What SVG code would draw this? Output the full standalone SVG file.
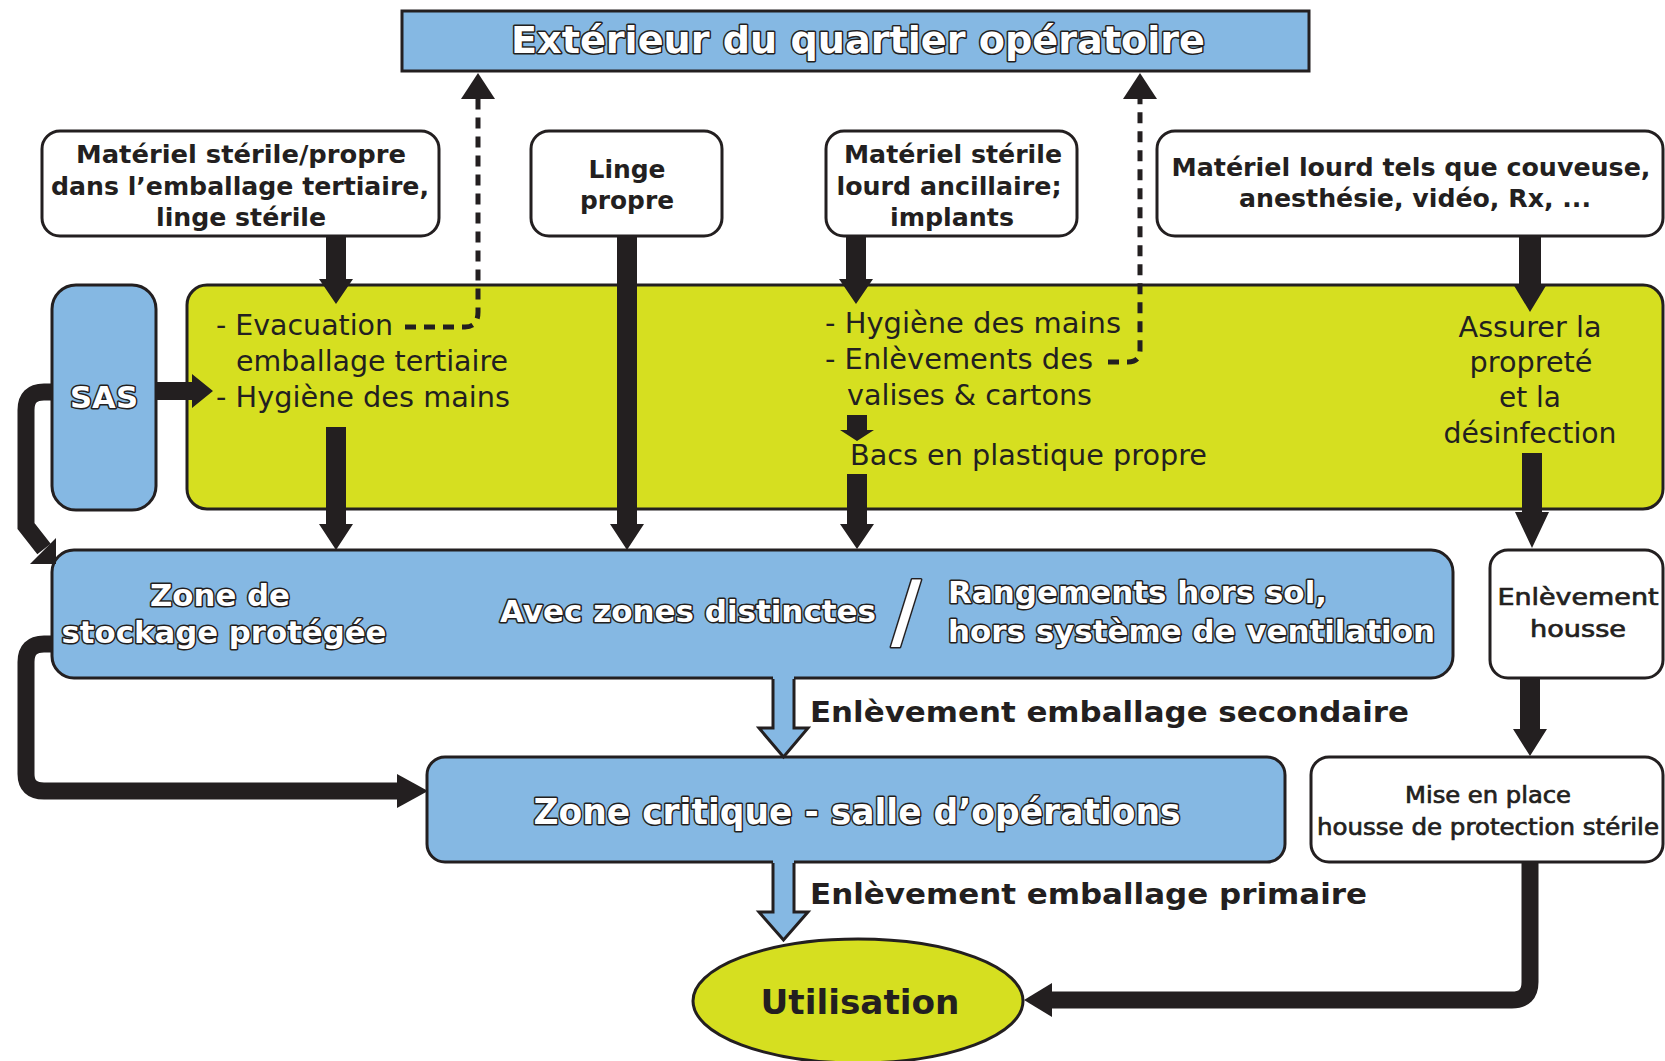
<svg xmlns="http://www.w3.org/2000/svg" width="1665" height="1061" viewBox="0 0 1665 1061">
<style>
.box{fill:#fff;stroke:#231f20;stroke-width:3}
.blue{fill:#85b8e3;stroke:#231f20;stroke-width:3}
.yel{fill:#d6df20;stroke:#231f20;stroke-width:3}
.ot{font-family:"DejaVu Sans","Liberation Sans",sans-serif;font-weight:bold;fill:#fff;stroke:#231f20;stroke-width:3;paint-order:stroke;stroke-linejoin:round}
.bt{font-family:"DejaVu Sans","Liberation Sans",sans-serif;font-weight:bold;fill:#231f20}
.mt{font-family:"DejaVu Sans","Liberation Sans",sans-serif;fill:#231f20;stroke:#231f20;stroke-width:0.7}
.yt{font-family:"DejaVu Sans","Liberation Sans",sans-serif;fill:#231f20;font-size:29px}
.c{text-anchor:middle}
.arr{fill:#231f20}
.ln{fill:none;stroke:#231f20;stroke-width:17}
.dash{fill:none;stroke:#231f20;stroke-width:5;stroke-dasharray:11 8}
.harr{fill:#85b8e3}
.hout{fill:none;stroke:#231f20;stroke-width:3;stroke-linejoin:miter}
</style>

<g id="exterieur">
<rect class="blue" x="402" y="11" width="907" height="60"/>
<text class="ot c" x="858" y="53" font-size="38" textLength="694" lengthAdjust="spacingAndGlyphs">Extérieur du quartier opératoire</text>
</g>

<g id="materiel-sterile-propre">
<rect class="box" x="42" y="131" width="397" height="105" rx="18"/>
<text class="bt c" x="241" y="163" font-size="24" textLength="330" lengthAdjust="spacingAndGlyphs">Matériel stérile/propre</text>
<text class="bt c" x="240" y="195" font-size="24" textLength="378" lengthAdjust="spacingAndGlyphs">dans l’emballage tertiaire,</text>
<text class="bt c" x="241" y="226" font-size="24" textLength="170" lengthAdjust="spacingAndGlyphs">linge stérile</text>
</g>

<g id="linge-propre">
<rect class="box" x="531" y="131" width="191" height="105" rx="18"/>
<text class="bt c" x="627" y="178" font-size="24" textLength="77" lengthAdjust="spacingAndGlyphs">Linge</text>
<text class="bt c" x="627" y="209" font-size="24" textLength="94" lengthAdjust="spacingAndGlyphs">propre</text>
</g>

<g id="materiel-lourd-ancillaire">
<rect class="box" x="826" y="131" width="251" height="105" rx="18"/>
<text class="bt c" x="953" y="163" font-size="24" textLength="218" lengthAdjust="spacingAndGlyphs">Matériel stérile</text>
<text class="bt c" x="949" y="195" font-size="24" textLength="225" lengthAdjust="spacingAndGlyphs">lourd ancillaire;</text>
<text class="bt c" x="952" y="226" font-size="24" textLength="124" lengthAdjust="spacingAndGlyphs">implants</text>
</g>

<g id="materiel-lourd">
<rect class="box" x="1157" y="131" width="506" height="105" rx="18"/>
<text class="bt c" x="1411" y="176" font-size="24" textLength="479" lengthAdjust="spacingAndGlyphs">Matériel lourd tels que couveuse,</text>
<text class="bt c" x="1415" y="207" font-size="24" textLength="352" lengthAdjust="spacingAndGlyphs">anesthésie, vidéo, Rx, ...</text>
</g>

<g id="sas">
<rect class="blue" x="52" y="285" width="104" height="225" rx="24"/>
<text class="ot c" x="104" y="408" font-size="31" textLength="68" lengthAdjust="spacingAndGlyphs">SAS</text>
</g>

<g id="zone-preparation">
<rect class="yel" x="187" y="285" width="1476" height="224" rx="20"/>
<text class="yt" x="216" y="335" textLength="177" lengthAdjust="spacingAndGlyphs">- Evacuation</text>
<text class="yt" x="236" y="371" textLength="272" lengthAdjust="spacingAndGlyphs">emballage tertiaire</text>
<text class="yt" x="216" y="407" textLength="294" lengthAdjust="spacingAndGlyphs">- Hygiène des mains</text>
<text class="yt" x="825" y="333" textLength="296" lengthAdjust="spacingAndGlyphs">- Hygiène des mains</text>
<text class="yt" x="825" y="369" textLength="268" lengthAdjust="spacingAndGlyphs">- Enlèvements des</text>
<text class="yt" x="847" y="405" textLength="245" lengthAdjust="spacingAndGlyphs">valises &amp; cartons</text>
<text class="yt" x="850" y="465" textLength="357" lengthAdjust="spacingAndGlyphs">Bacs en plastique propre</text>
<text class="yt c" x="1530" y="337" textLength="143" lengthAdjust="spacingAndGlyphs">Assurer la</text>
<text class="yt c" x="1531" y="372" textLength="123" lengthAdjust="spacingAndGlyphs">propreté</text>
<text class="yt c" x="1530" y="407" textLength="62" lengthAdjust="spacingAndGlyphs">et la</text>
<text class="yt c" x="1530" y="443" textLength="173" lengthAdjust="spacingAndGlyphs">désinfection</text>
</g>

<g id="zone-stockage">
<rect class="blue" x="52" y="550" width="1401" height="128" rx="22"/>
<text class="ot c" x="220" y="606" font-size="30" textLength="140" lengthAdjust="spacingAndGlyphs">Zone de</text>
<text class="ot c" x="224" y="643" font-size="30" textLength="325" lengthAdjust="spacingAndGlyphs">stockage protégée</text>
<text class="ot" x="500" y="622" font-size="30" textLength="376" lengthAdjust="spacingAndGlyphs">Avec zones distinctes</text>
<text class="ot c" x="906" y="639" font-size="82" font-weight="normal">/</text>
<text class="ot" x="948" y="603" font-size="30" textLength="379" lengthAdjust="spacingAndGlyphs">Rangements hors sol,</text>
<text class="ot" x="948" y="642" font-size="30" textLength="487" lengthAdjust="spacingAndGlyphs">hors système de ventilation</text>
</g>

<g id="enlevement-housse">
<rect class="box" x="1490" y="550" width="173" height="128" rx="18"/>
<text class="mt c" x="1578" y="605" font-size="23" textLength="161" lengthAdjust="spacingAndGlyphs">Enlèvement</text>
<text class="mt c" x="1578" y="637" font-size="23" textLength="96" lengthAdjust="spacingAndGlyphs">housse</text>
</g>

<g id="zone-critique">
<rect class="blue" x="427" y="757" width="858" height="105" rx="18"/>
<text class="ot c" x="857" y="824" font-size="36" textLength="647" lengthAdjust="spacingAndGlyphs">Zone critique - salle d’opérations</text>
</g>

<g id="mise-en-place">
<rect class="box" x="1311" y="757" width="352" height="105" rx="18"/>
<text class="mt c" x="1488" y="803" font-size="23" textLength="166" lengthAdjust="spacingAndGlyphs">Mise en place</text>
<text class="mt c" x="1488" y="835" font-size="23" textLength="342" lengthAdjust="spacingAndGlyphs">housse de protection stérile</text>
</g>

<g id="utilisation">
<ellipse class="yel" cx="858" cy="1001" rx="165" ry="62"/>
<text class="bt c" x="860" y="1014" font-size="34" textLength="199" lengthAdjust="spacingAndGlyphs">Utilisation</text>
</g>

<g id="connectors">
<polygon class="arr" points="326,236 346,236 346,279 353,279 336,304 319,279 326,279"/>
<polygon class="arr" points="326,427 346,427 346,524 353,524 336,550 319,524 326,524"/>
<polygon class="arr" points="617,236 637,236 637,524 644,524 627,550 610,524 617,524"/>
<polygon class="arr" points="846,236 866,236 866,279 873,279 856,304 839,279 846,279"/>
<polygon class="arr" points="847,415 867,415 867,430 874,430 857,441 840,430 847,430"/>
<polygon class="arr" points="847,474 867,474 867,524 874,524 857,549 840,524 847,524"/>
<polygon class="arr" points="1519,236 1541,236 1541,284 1547,284 1530,312 1513,284 1519,284"/>
<polygon class="arr" points="1522,453 1542,453 1542,512 1549,512 1532,548 1515,512 1522,512"/>
<polygon class="arr" points="1520,677 1540,677 1540,729 1547,729 1530,756 1513,729 1520,729"/>
<polygon class="arr" points="156,382 192,382 192,374 213,391 192,408 192,400 156,400"/>
<path class="ln" d="M53,392 H44 Q26,392 26,410 V526 L44,549"/>
<polygon class="arr" points="56,564 56,538 30,564"/>
<path class="ln" d="M53,644 H44 Q26,644 26,662 V774 Q26,791 44,791 H400"/>
<polygon class="arr" points="397,774 428,791 397,808"/>
<path class="ln" d="M1530,862 V982 Q1530,1000 1512,1000 H1050"/>
<polygon class="arr" points="1052,983 1024,1000 1052,1017"/>
<path class="dash" d="M405,327 H465 Q478,327 478,312 V99"/>
<polygon class="arr" points="461,99 478,73 495,99"/>
<path class="dash" d="M1108,362 H1128 Q1140,362 1140,350 V99"/>
<polygon class="arr" points="1123,99 1140,73 1157,99"/>
<polygon class="harr" points="773,676 794,676 794,728 808,728 783.5,757 759,728 773,728"/>
<polyline class="hout" points="773,679 773,728 759,728 783.5,757 808,728 794,728 794,679"/>
<polygon class="harr" points="773,860 794,860 794,912 808,912 783.5,940 759,912 773,912"/>
<polyline class="hout" points="773,863 773,912 759,912 783.5,940 808,912 794,912 794,863"/>
<text class="bt" x="810" y="722" font-size="29" textLength="599" lengthAdjust="spacingAndGlyphs">Enlèvement emballage secondaire</text>
<text class="bt" x="810" y="904" font-size="29" textLength="557" lengthAdjust="spacingAndGlyphs">Enlèvement emballage primaire</text>
</g>
</svg>
